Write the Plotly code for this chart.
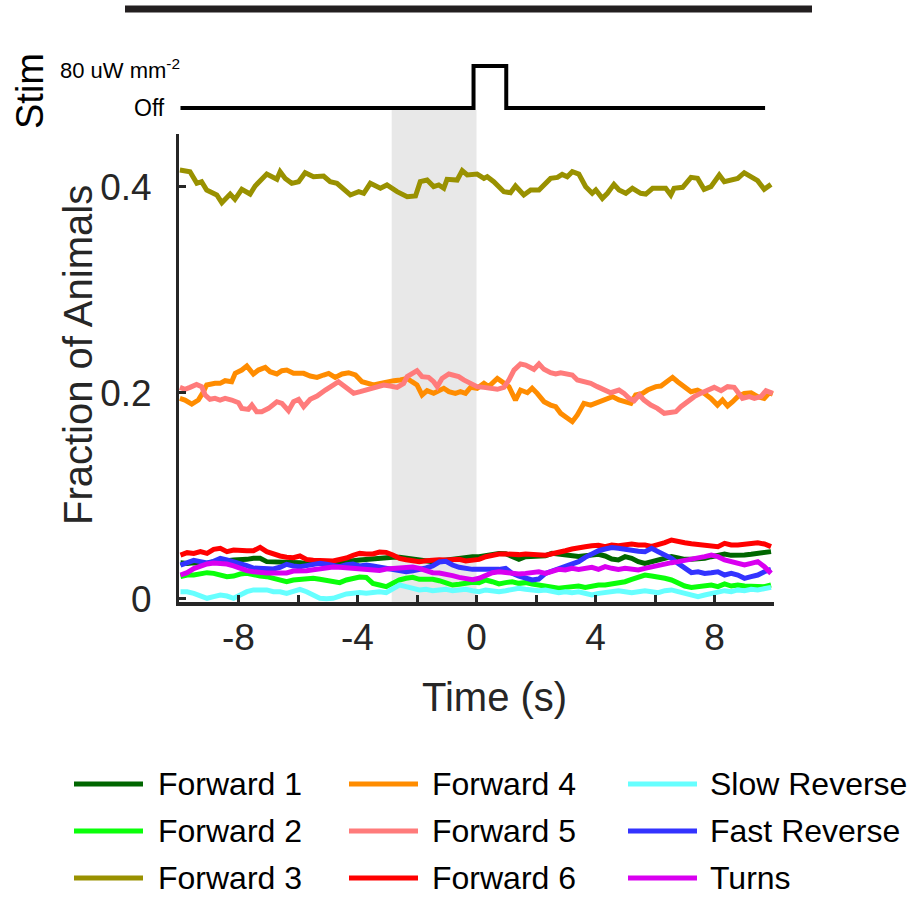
import numpy as np
import plotly.graph_objects as go

W, H = 920, 899

# ---------------- data ----------------
# Forward 3 (olive)
t_fwd3 = [-9.97, -9.63, -9.4, -9.24, -9.07, -8.73, -8.56, -8.28, -8.12, -7.89,
          -7.61, -7.44, -7.05, -6.71, -6.6, -6.43, -6.21, -5.98, -5.76, -5.48,
          -5.14, -4.92, -4.69, -4.24, -3.96, -3.79, -3.57, -3.23, -3.01, -2.67,
          -2.33, -2.05, -1.89, -1.66, -1.44, -1.27, -1.1, -0.99, -0.65, -0.48,
          -0.31, 0.02,
          0.25, 0.36, 0.58, 0.92, 1.14, 1.31, 1.59, 1.82, 2.10, 2.27,
          2.49, 2.72, 2.88, 3.05, 3.22, 3.44, 3.67, 3.89, 4.01, 4.23,
          4.40, 4.62, 4.79, 5.02, 5.24, 5.52, 5.69, 5.92, 6.20, 6.36,
          6.53, 6.64, 6.93, 7.21, 7.43, 7.65, 7.88, 8.16, 8.33, 8.55,
          8.78, 9.00, 9.23, 9.45, 9.67, 9.90]
fwd3 = [.4162, .4146, .4033, .4049, .3968, .3920, .3845, .3929, .3878, .3975,
        .3929, .4007, .4123, .4072, .4146, .4081, .4033, .4049, .4136, .4097,
        .4104, .4049, .4033, .3920, .3952, .3936, .4033, .3985, .4017, .3952,
        .3903, .3910, .4049, .4065, .4001, .4017, .3985, .4072, .4065, .4156,
        .4114, .4123,
        .4081, .4097, .4049, .3952, .3942, .4007, .3920, .3968, .3968, .4017,
        .4081, .4091, .4120, .4097, .4146, .4123, .4001, .3936, .3968, .3887,
        .3936, .4023, .3968, .3936, .3985, .3936, .3929, .3985, .3978, .3985,
        .3920, .3985, .3994, .4091, .4081, .3975, .4001, .4114, .4049, .4059,
        .4081, .4136, .4091, .4059, .3975, .4023]

# Forward 4 (orange)
t_fwd4 = [-9.97, -9.80, -9.57, -9.35, -9.18, -9.07, -8.79, -8.62, -8.45, -8.23,
          -8.11, -7.89, -7.72, -7.50, -7.33, -7.10, -6.94, -6.71, -6.54, -6.38,
          -6.15, -5.98, -5.81, -5.59, -5.36, -5.14, -4.97, -4.75, -4.52, -4.30,
          -4.07, -3.85, -3.68, -3.46, -3.23, -3.01, -2.78, -2.56, -2.33, -2.17,
          -2.00, -1.83, -1.66, -1.44, -1.27, -1.10, -0.93, -0.71, -0.54, -0.37,
          -0.20, 0.02,
          0.25, 0.41, 0.70, 0.92, 1.09, 1.31, 1.48, 1.71, 1.87, 2.04,
          2.27, 2.49, 2.66, 2.83, 3.05, 3.22, 3.39, 3.61, 3.84, 4.01,
          4.23, 4.40, 4.57, 4.79, 4.96, 5.19, 5.35, 5.58, 5.75, 6.03,
          6.20, 6.42, 6.59, 6.76, 6.98, 7.21, 7.43, 7.65, 7.88, 8.10,
          8.27, 8.44, 8.61, 8.78, 9.00, 9.23, 9.45, 9.67, 9.84, 9.96]
fwd4 = [.1945, .1929, .1890, .1929, .2010, .2075, .2091, .2091, .2117, .2107,
        .2188, .2220, .2259, .2182, .2220, .2246, .2204, .2182, .2214, .2220,
        .2188, .2194, .2188, .2162, .2149, .2172, .2188, .2149, .2182, .2194,
        .2172, .2107, .2091, .2075, .2091, .2107, .2117, .2124, .2139, .2107,
        .2075, .1978, .2020, .1994, .2020, .2043, .2010, .1994, .2010, .1994,
        .2052, .2043,
        .2091, .2059, .2139, .2091, .2059, .1929, .2026, .2000, .2043, .1994,
        .1913, .1880, .1864, .1800, .1751, .1719, .1784, .1897, .1880, .1897,
        .1929, .1936, .1962, .1929, .1913, .1897, .1978, .1994, .2026, .2059,
        .2065, .2107, .2149, .2107, .2059, .2010, .2026, .1994, .1945, .1880,
        .1929, .1871, .1913, .1962, .1994, .2000, .1962, .1945, .2000, .1987]

# Forward 5 (salmon)
t_fwd5 = [-9.97, -9.80, -9.63, -9.41, -9.24, -9.12, -8.96, -8.79, -8.62, -8.45,
          -8.23, -8.00, -7.89, -7.67, -7.55, -7.39, -7.22, -6.99, -6.71, -6.54,
          -6.32, -6.15, -5.98, -5.81, -5.59, -5.36, -5.08, -4.80, -4.64, -4.35,
          -4.13, -3.91, -3.74, -3.57, -3.34, -3.12, -2.90, -2.67, -2.45, -2.33,
          -2.00, -1.83, -1.61, -1.44, -1.32, -1.16, -0.93, -0.76, -0.60, -0.43,
          -0.20, 0.02,
          0.25, 0.47, 0.70, 0.92, 1.09, 1.26, 1.48, 1.65, 1.82, 1.93,
          2.10, 2.27, 2.49, 2.66, 2.83, 3.05, 3.22, 3.39, 3.61, 3.84,
          4.06, 4.29, 4.51, 4.79, 4.96, 5.13, 5.30, 5.47, 5.63, 5.86,
          6.08, 6.31, 6.53, 6.70, 6.87, 7.09, 7.32, 7.54, 7.77, 7.99,
          8.22, 8.44, 8.66, 8.78, 8.94, 9.17, 9.34, 9.56, 9.73, 9.96]
fwd5 = [.2052, .2033, .2052, .2081, .2059, .1978, .1936, .1945, .1929, .1945,
        .1929, .1903, .1848, .1838, .1880, .1816, .1816, .1848, .1913, .1897,
        .1826, .1913, .1936, .1864, .1936, .1968, .2026, .2075, .2107, .2043,
        .1994, .2010, .2026, .2043, .2059, .2075, .2065, .2052, .2091, .2156,
        .2214, .2156, .2149, .2107, .2059, .2139, .2182, .2172, .2156, .2124,
        .2091, .2059,
        .2052, .2043, .2033, .2052, .2124, .2220, .2279, .2269, .2237, .2227,
        .2279, .2227, .2194, .2182, .2194, .2182, .2172, .2124, .2107, .2091,
        .2059, .2026, .2000, .2026, .1994, .1945, .1923, .1978, .1929, .1880,
        .1848, .1800, .1806, .1816, .1864, .1913, .1962, .1994, .2026, .2052,
        .2020, .2059, .2052, .2010, .1945, .1962, .1945, .1962, .2020, .1994]

# low-fraction behaviours share one sampled time axis
time_low = np.linspace(-9.95, 9.9, 90)

fwd1 = [.0350, .0343, .0350, .0350, .0343, .0360, .0360, .0369, .0376, .0376,
        .0382, .0392, .0392, .0360, .0360, .0360, .0360, .0360, .0350, .0343,
        .0350, .0360, .0360, .0350, .0353, .0360, .0369, .0376, .0382, .0392,
        .0392, .0395, .0402, .0402, .0392, .0389, .0382, .0369, .0360, .0366,
        .0376, .0382, .0392, .0402, .0408,
        .0408, .0418, .0431, .0440, .0437, .0415, .0382, .0408, .0411, .0411,
        .0418, .0440, .0431, .0418, .0408, .0411, .0418, .0424, .0431, .0415,
        .0385, .0376, .0408, .0392, .0360, .0343, .0360, .0376, .0392, .0408,
        .0395, .0382, .0382, .0382, .0392, .0408, .0415, .0434, .0421, .0418,
        .0424, .0431, .0437, .0447, .0457]

fwd2 = [.0214, .0230, .0230, .0246, .0253, .0246, .0230, .0214, .0220, .0240,
        .0246, .0230, .0220, .0214, .0198, .0182, .0165, .0182, .0188, .0182,
        .0198, .0188, .0175, .0165, .0156, .0182, .0191, .0211, .0207, .0149,
        .0133, .0117, .0149, .0182, .0198, .0207, .0188, .0188, .0188, .0175,
        .0156, .0133, .0140, .0153, .0159,
        .0156, .0182, .0165, .0143, .0156, .0165, .0149, .0156, .0143, .0133,
        .0123, .0117, .0101, .0110, .0117, .0123, .0110, .0123, .0133, .0133,
        .0143, .0149, .0165, .0188, .0207, .0230, .0220, .0214, .0198, .0182,
        .0149, .0123, .0110, .0117, .0123, .0133, .0117, .0143, .0123, .0133,
        .0123, .0117, .0123, .0117, .0133]

fwd6 = [.0424, .0447, .0440, .0457, .0440, .0479, .0489, .0457, .0473, .0466,
        .0466, .0466, .0499, .0457, .0431, .0415, .0402, .0398, .0415, .0382,
        .0373, .0376, .0369, .0366, .0379, .0395, .0421, .0440, .0434, .0434,
        .0453, .0450, .0424, .0392, .0379, .0366, .0360, .0369, .0379, .0379,
        .0376, .0382, .0382, .0366, .0376,
        .0382, .0408, .0424, .0434, .0434, .0428, .0428, .0434, .0428, .0415,
        .0421, .0437, .0447, .0466, .0483, .0489, .0505, .0515, .0518, .0505,
        .0521, .0515, .0525, .0531, .0521, .0521, .0508, .0521, .0544, .0570,
        .0563, .0544, .0534, .0528, .0521, .0512, .0505, .0538, .0521, .0521,
        .0531, .0538, .0544, .0531, .0505]

slow_rev = [.0068, .0068, .0052, .0026, .0004, .0020, .0036, .0026, .0004, .0036,
            .0068, .0085, .0091, .0085, .0068, .0068, .0052, .0078, .0091, .0068,
            .0036, .0004, .0000, .0004, .0026, .0046, .0052, .0059, .0052, .0059,
            .0068, .0059, .0101, .0133, .0117, .0101, .0085, .0091, .0078, .0085,
            .0091, .0078, .0085, .0091, .0078,
            .0068, .0085, .0078, .0068, .0078, .0085, .0101, .0091, .0085, .0078,
            .0085, .0068, .0059, .0068, .0059, .0068, .0052, .0036, .0052, .0059,
            .0068, .0078, .0068, .0059, .0068, .0078, .0068, .0059, .0078, .0085,
            .0068, .0052, .0036, .0020, .0036, .0052, .0068, .0078, .0068, .0085,
            .0078, .0091, .0085, .0101, .0110]

fast_rev = [.0327, .0353, .0373, .0360, .0347, .0363, .0392, .0376, .0360, .0343,
            .0321, .0298, .0292, .0285, .0288, .0305, .0334, .0318, .0311, .0321,
            .0334, .0343, .0334, .0321, .0311, .0330, .0337, .0318, .0327, .0318,
            .0305, .0292, .0282, .0272, .0262, .0272, .0282, .0298, .0318, .0356,
            .0363, .0327, .0305, .0292, .0285,
            .0285, .0282, .0279, .0285, .0295, .0246, .0220, .0201, .0182, .0191,
            .0246, .0269, .0295, .0318, .0334, .0360, .0402, .0440, .0466, .0483,
            .0496, .0489, .0476, .0466, .0460, .0457, .0489, .0457, .0424, .0392,
            .0343, .0295, .0253, .0262, .0246, .0253, .0262, .0230, .0246, .0230,
            .0198, .0214, .0230, .0262, .0285]

turns = [.0230, .0253, .0292, .0318, .0337, .0347, .0347, .0337, .0318, .0292,
         .0272, .0262, .0253, .0250, .0250, .0250, .0250, .0269, .0269, .0272,
         .0282, .0292, .0301, .0308, .0305, .0301, .0298, .0285, .0282, .0279,
         .0275, .0288, .0292, .0292, .0301, .0308, .0295, .0272, .0253, .0250,
         .0243, .0224, .0207, .0195, .0185,
         .0198, .0230, .0253, .0262, .0253, .0246, .0240, .0246, .0253, .0262,
         .0246, .0272, .0285, .0279, .0295, .0285, .0295, .0305, .0285, .0311,
         .0295, .0285, .0295, .0285, .0279, .0295, .0311, .0327, .0343, .0350,
         .0360, .0369, .0382, .0392, .0408, .0424, .0408, .0376, .0360, .0343,
         .0327, .0343, .0360, .0311, .0246]

stim_t = [-9.95, -0.1, -0.1, 1.0, 1.0, 9.7]
stim_level = [0, 0, 1, 1, 0, 0]
shade_window = [-2.85, 0.0]

series_names = ["Forward 1", "Forward 2", "Forward 3", "Forward 4", "Forward 5",
                "Forward 6", "Slow Reverse", "Fast Reverse", "Turns"]
series_colors = ["#006600", "#0aff0a", "#999100", "#ff8c00", "#ff7b7b",
                 "#ff0000", "#66ffff", "#3333ff", "#d900f0"]

x_ticks = [-8, -4, 0, 4, 8]
x_ticktext = ["-8", "-4", "0", "4", "8"]
y_ticks = [0, 0.2, 0.4]
y_ticktext = ["0", "0.2", "0.4"]

# ---------------- figure ----------------
FONT = "Liberation Sans, Arial, sans-serif"
AX = "#262626"

series = [
    (time_low, fwd1), (time_low, fwd2), (t_fwd3, fwd3), (t_fwd4, fwd4),
    (t_fwd5, fwd5), (time_low, fwd6), (time_low, slow_rev),
    (time_low, fast_rev), (time_low, turns),
]

fig = go.Figure()
for (tx, vy), name, col in zip(series, series_names, series_colors):
    fig.add_trace(go.Scatter(x=tx, y=vy, mode="lines", name=name,
                             line=dict(color=col, width=5),
                             showlegend=False, xaxis="x", yaxis="y"))

fig.add_trace(go.Scatter(x=stim_t, y=stim_level, mode="lines", name="Stim",
                         line=dict(color="black", width=4),
                         showlegend=False, xaxis="x2", yaxis="y2"))


def px_x(p):
    return p / W


def px_y(p):
    return 1 - p / H


xdom = [px_x(179), px_x(774)]

fig.update_layout(
    width=W, height=H, autosize=False, showlegend=False,
    margin=dict(l=0, r=0, t=0, b=0, pad=0, autoexpand=False),
    paper_bgcolor="white", plot_bgcolor="rgba(0,0,0,0)",
    font=dict(family=FONT, color=AX),
    xaxis=dict(domain=xdom, range=[-10, 10], showgrid=False, zeroline=False,
               automargin=False,
               showline=True, linecolor=AX, linewidth=3.5,
               ticks="inside", ticklen=7, tickwidth=2.5, tickcolor=AX,
               tickvals=x_ticks, ticktext=x_ticktext,
               minor=dict(tick0=0, dtick=2, ticks="inside", ticklen=7,
                          tickwidth=2.5, tickcolor=AX, showgrid=False),
               tickfont=dict(size=37, family=FONT, color=AX),
               ticklabelstandoff=0,
               anchor="y"),
    yaxis=dict(domain=[px_y(602), px_y(134)], range=[-0.0032, 0.4512],
               showgrid=False, zeroline=False, automargin=False,
               showline=True, linecolor=AX, linewidth=3,
               ticks="inside", ticklen=7, tickwidth=2.5, tickcolor=AX,
               tickvals=y_ticks, ticktext=y_ticktext,
               tickfont=dict(size=37, family=FONT, color=AX),
               ticklabelstandoff=17,
               anchor="x"),
    xaxis2=dict(domain=xdom, range=[-10, 10], visible=False, anchor="y2",
                automargin=False),
    yaxis2=dict(domain=[px_y(116.4), px_y(57.6)], range=[-0.2, 1.2],
                visible=False, anchor="x2", automargin=False),
)

# axis titles
fig.add_annotation(text="Fraction of Animals", xref="paper", yref="paper",
                   x=px_x(78), y=px_y(355), textangle=-90, showarrow=False,
                   xanchor="center", yanchor="middle",
                   font=dict(size=40, family=FONT, color=AX))
fig.add_annotation(text="Time (s)", xref="paper", yref="paper",
                   x=px_x(494), y=px_y(697), showarrow=False,
                   xanchor="center", yanchor="middle",
                   font=dict(size=40, family=FONT, color=AX))

# shaded pre-stimulus window
fig.add_shape(type="rect", xref="x", yref="paper",
              x0=shade_window[0], x1=shade_window[1],
              y0=px_y(602), y1=px_y(110),
              fillcolor="#e8e8e8", line=dict(width=0), layer="below")

# top bar
fig.add_shape(type="line", xref="paper", yref="paper",
              x0=px_x(125), x1=px_x(812), y0=px_y(9), y1=px_y(9),
              line=dict(color="#231f20", width=7))

# stim labels
fig.add_annotation(text="Stim", xref="paper", yref="paper",
                   x=px_x(30), y=px_y(91), textangle=-90, showarrow=False,
                   xanchor="center", yanchor="middle",
                   font=dict(size=38, family=FONT, color="black"))
fig.add_annotation(text="80 uW mm<sup>-2</sup>", xref="paper", yref="y2",
                   x=px_x(182), y=1, yshift=-3, showarrow=False,
                   xanchor="right", yanchor="middle",
                   font=dict(size=22, family=FONT, color="black"))
fig.add_annotation(text="Off", xref="paper", yref="y2",
                   x=px_x(167), y=0, showarrow=False,
                   xanchor="right", yanchor="middle",
                   font=dict(size=23, family=FONT, color="black"))

# legend (3 columns, drawn as swatches + labels)
col_line_x = [74, 349, 628]
col_text_x = [156, 430, 708]
row_y = [784, 831, 878]
for i, (name, col) in enumerate(zip(series_names, series_colors)):
    c, r = i // 3, i % 3
    fig.add_shape(type="line", xref="paper", yref="paper",
                  x0=px_x(col_line_x[c]), x1=px_x(col_line_x[c] + 69),
                  y0=px_y(row_y[r]), y1=px_y(row_y[r]),
                  line=dict(color=col, width=5))
    fig.add_annotation(text=name, xref="paper", yref="paper",
                       x=px_x(col_text_x[c]), y=px_y(row_y[r]),
                       xanchor="left", yanchor="middle", showarrow=False,
                       font=dict(size=32, family=FONT, color="black"))

fig.write_html("out.html")
